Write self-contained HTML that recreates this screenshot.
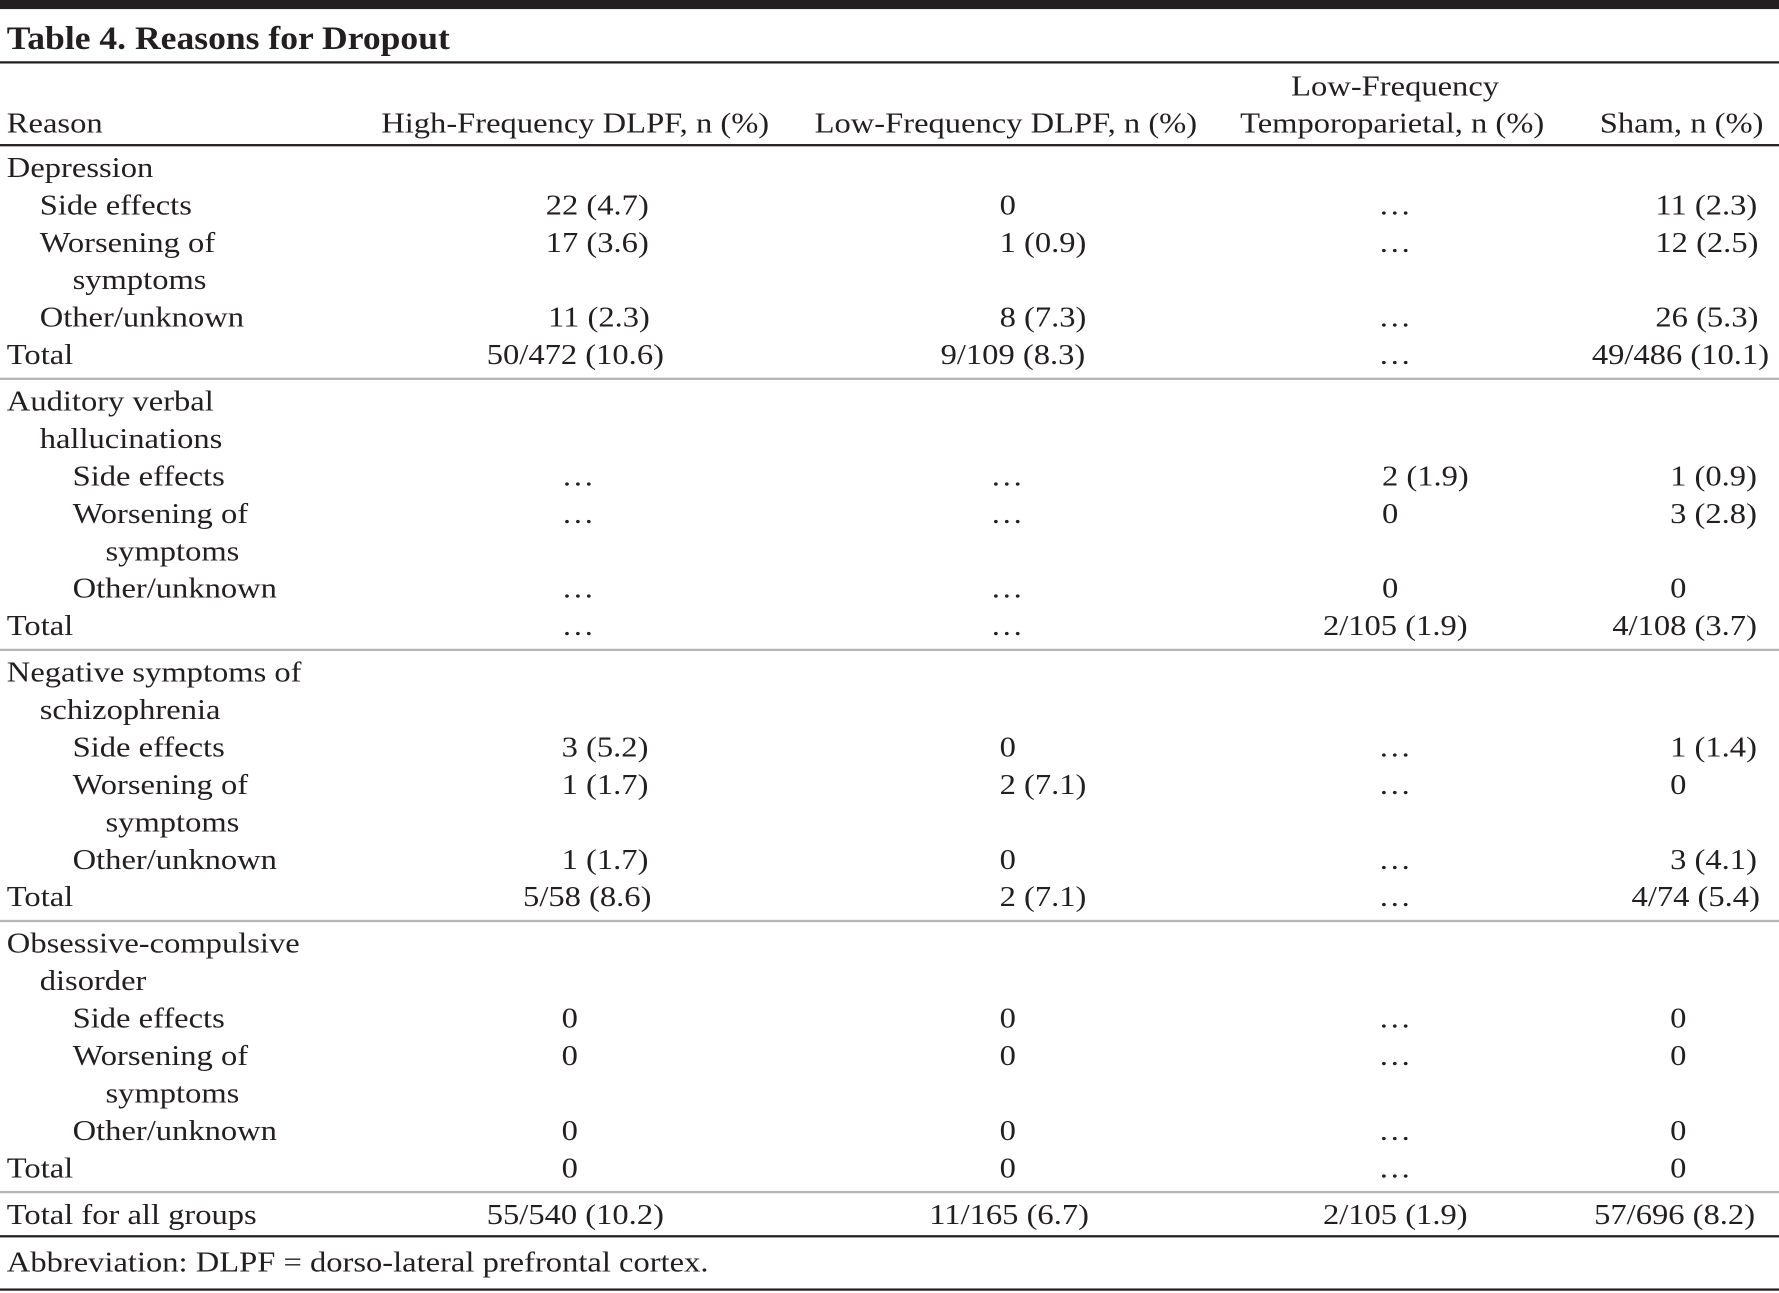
<!DOCTYPE html>
<html><head><meta charset="utf-8">
<style>
html,body{margin:0;padding:0;background:#fff;}
body{width:1779px;height:1293px;overflow:hidden;}
#w{position:absolute;left:0;top:0;width:1568px;height:1140px;transform:scale(1.1346,1.1342);transform-origin:0 0;font-family:"Liberation Serif",serif;color:#231f20;}
.t{position:absolute;font-size:25.5px;line-height:30px;white-space:nowrap;transform:scaleX(1.125);transform-origin:0 0;}
.l{position:absolute;left:0;width:1568px;height:2px;background:#231f20;}
.g{background:#b5b5b5;}
</style></head><body>
<div id="w">
<div class="l" style="top:0;height:8px"></div>
<div class="t" style="left:6px;top:18px;font-size:28.5px;font-weight:bold;line-height:34px;transform:scaleX(1.1)">Table 4. Reasons for Dropout</div>
<div class="l" style="top:54px"></div>

<div class="t" style="left:6px;top:94px">Reason</div>
<div class="t" style="left:336px;top:94px">High-Frequency DLPF, n (%)</div>
<div class="t" style="left:718px;top:94px">Low-Frequency DLPF, n (%)</div>
<div class="t" style="left:1138px;top:61px">Low-Frequency</div>
<div class="t" style="left:1093px;top:94px">Temporoparietal, n (%)</div>
<div class="t" style="left:1410px;top:94px">Sham, n (%)</div>
<div class="l" style="top:127px"></div>

<div class="t" style="left:6px;top:133px">Depression</div>
<div class="t" style="left:35px;top:166px">Side effects</div>
<div class="t" style="left:481px;top:166px">22 (4.7)</div>
<div class="t" style="left:881px;top:166px">0</div>
<div class="t" style="left:1215px;top:166px">…</div>
<div class="t" style="left:1459px;top:166px">11 (2.3)</div>
<div class="t" style="left:35px;top:199px">Worsening of</div>
<div class="t" style="left:64px;top:232px">symptoms</div>
<div class="t" style="left:481px;top:199px">17 (3.6)</div>
<div class="t" style="left:881px;top:199px">1 (0.9)</div>
<div class="t" style="left:1215px;top:199px">…</div>
<div class="t" style="left:1459px;top:199px">12 (2.5)</div>
<div class="t" style="left:35px;top:265px">Other/unknown</div>
<div class="t" style="left:483px;top:265px">11 (2.3)</div>
<div class="t" style="left:881px;top:265px">8 (7.3)</div>
<div class="t" style="left:1215px;top:265px">…</div>
<div class="t" style="left:1459px;top:265px">26 (5.3)</div>
<div class="t" style="left:6px;top:298px">Total</div>
<div class="t" style="left:429px;top:298px">50/472 (10.6)</div>
<div class="t" style="left:829px;top:298px">9/109 (8.3)</div>
<div class="t" style="left:1215px;top:298px">…</div>
<div class="t" style="left:1403px;top:298px">49/486 (10.1)</div>
<div class="l g" style="top:333px"></div>

<div class="t" style="left:6px;top:339px">Auditory verbal</div>
<div class="t" style="left:35px;top:372px">hallucinations</div>
<div class="t" style="left:64px;top:405px">Side effects</div>
<div class="t" style="left:495px;top:405px">…</div>
<div class="t" style="left:873px;top:405px">…</div>
<div class="t" style="left:1218px;top:405px">2 (1.9)</div>
<div class="t" style="left:1472px;top:405px">1 (0.9)</div>
<div class="t" style="left:64px;top:438px">Worsening of</div>
<div class="t" style="left:93px;top:471px">symptoms</div>
<div class="t" style="left:495px;top:438px">…</div>
<div class="t" style="left:873px;top:438px">…</div>
<div class="t" style="left:1218px;top:438px">0</div>
<div class="t" style="left:1472px;top:438px">3 (2.8)</div>
<div class="t" style="left:64px;top:504px">Other/unknown</div>
<div class="t" style="left:495px;top:504px">…</div>
<div class="t" style="left:873px;top:504px">…</div>
<div class="t" style="left:1218px;top:504px">0</div>
<div class="t" style="left:1472px;top:504px">0</div>
<div class="t" style="left:6px;top:537px">Total</div>
<div class="t" style="left:495px;top:537px">…</div>
<div class="t" style="left:873px;top:537px">…</div>
<div class="t" style="left:1166px;top:537px">2/105 (1.9)</div>
<div class="t" style="left:1421px;top:537px">4/108 (3.7)</div>
<div class="l g" style="top:572px"></div>

<div class="t" style="left:6px;top:578px">Negative symptoms of</div>
<div class="t" style="left:35px;top:611px">schizophrenia</div>
<div class="t" style="left:64px;top:644px">Side effects</div>
<div class="t" style="left:495px;top:644px">3 (5.2)</div>
<div class="t" style="left:881px;top:644px">0</div>
<div class="t" style="left:1215px;top:644px">…</div>
<div class="t" style="left:1472px;top:644px">1 (1.4)</div>
<div class="t" style="left:64px;top:677px">Worsening of</div>
<div class="t" style="left:93px;top:710px">symptoms</div>
<div class="t" style="left:495px;top:677px">1 (1.7)</div>
<div class="t" style="left:881px;top:677px">2 (7.1)</div>
<div class="t" style="left:1215px;top:677px">…</div>
<div class="t" style="left:1472px;top:677px">0</div>
<div class="t" style="left:64px;top:743px">Other/unknown</div>
<div class="t" style="left:495px;top:743px">1 (1.7)</div>
<div class="t" style="left:881px;top:743px">0</div>
<div class="t" style="left:1215px;top:743px">…</div>
<div class="t" style="left:1472px;top:743px">3 (4.1)</div>
<div class="t" style="left:6px;top:776px">Total</div>
<div class="t" style="left:461px;top:776px">5/58 (8.6)</div>
<div class="t" style="left:881px;top:776px">2 (7.1)</div>
<div class="t" style="left:1215px;top:776px">…</div>
<div class="t" style="left:1438px;top:776px">4/74 (5.4)</div>
<div class="l g" style="top:811px"></div>

<div class="t" style="left:6px;top:817px">Obsessive-compulsive</div>
<div class="t" style="left:35px;top:850px">disorder</div>
<div class="t" style="left:64px;top:883px">Side effects</div>
<div class="t" style="left:495px;top:883px">0</div>
<div class="t" style="left:881px;top:883px">0</div>
<div class="t" style="left:1215px;top:883px">…</div>
<div class="t" style="left:1472px;top:883px">0</div>
<div class="t" style="left:64px;top:916px">Worsening of</div>
<div class="t" style="left:93px;top:949px">symptoms</div>
<div class="t" style="left:495px;top:916px">0</div>
<div class="t" style="left:881px;top:916px">0</div>
<div class="t" style="left:1215px;top:916px">…</div>
<div class="t" style="left:1472px;top:916px">0</div>
<div class="t" style="left:64px;top:982px">Other/unknown</div>
<div class="t" style="left:495px;top:982px">0</div>
<div class="t" style="left:881px;top:982px">0</div>
<div class="t" style="left:1215px;top:982px">…</div>
<div class="t" style="left:1472px;top:982px">0</div>
<div class="t" style="left:6px;top:1015px">Total</div>
<div class="t" style="left:495px;top:1015px">0</div>
<div class="t" style="left:881px;top:1015px">0</div>
<div class="t" style="left:1215px;top:1015px">…</div>
<div class="t" style="left:1472px;top:1015px">0</div>
<div class="l g" style="top:1050px"></div>

<div class="t" style="left:6px;top:1056px">Total for all groups</div>
<div class="t" style="left:429px;top:1056px">55/540 (10.2)</div>
<div class="t" style="left:819px;top:1056px">11/165 (6.7)</div>
<div class="t" style="left:1166px;top:1056px">2/105 (1.9)</div>
<div class="t" style="left:1405px;top:1056px">57/696 (8.2)</div>
<div class="l" style="top:1089px"></div>
<div class="t" style="left:6px;top:1098px">Abbreviation: DLPF = dorso-lateral prefrontal cortex.</div>
<div class="l" style="top:1136px"></div>
</div>
</body></html>
